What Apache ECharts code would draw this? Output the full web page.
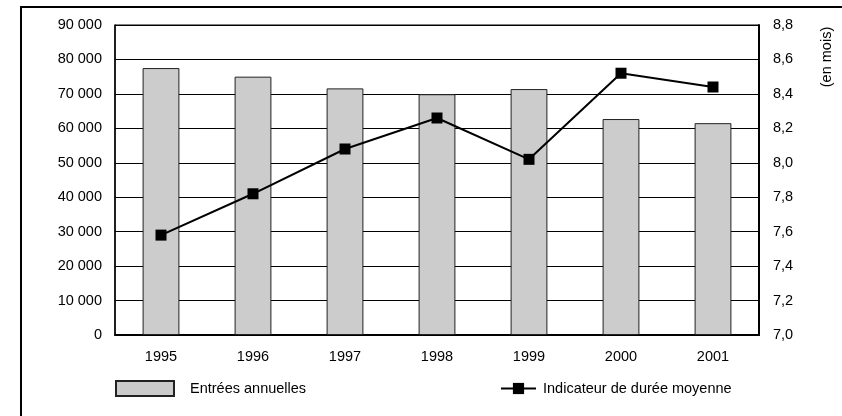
<!DOCTYPE html>
<head>
    <meta charset="utf-8"/>
    <style>
        html,body { height:100%; width:100%; margin:0; padding:0; background:#fff; }
    </style>
</head>
<body>

<div id="chart" style="width: 842px;height:416px"></div>

<script src="https://cdn.jsdelivr.net/npm/echarts@6/dist/echarts.min.js"></script>
<script type="text/javascript">

 // données
 var annees = ['1995', '1996', '1997', '1998', '1999', '2000', '2001'];
 var entrees = [77500, 75000, 71600, 69900, 71400, 62700, 61500];
 var duree = [7.58, 7.82, 8.08, 8.26, 8.02, 8.52, 8.44];

 var police = 'Liberation Sans, Arial, sans-serif';

 function milliers(v) {
     return String(v).replace(/\B(?=(\d{3})+(?!\d))/g, ' ');
 }

 var myChart = echarts.init(document.getElementById('chart'));

 var options = {
    animation: false,
    textStyle: { fontFamily: police, color: '#000' },
    grid: {
        left: 115,
        right: 83,
        top: 25,
        bottom: 81,
        show: true,
        borderColor: '#000',
        borderWidth: 1
    },
    graphic: [
        {
            type: 'rect',
            shape: { x: 21, y: 7, width: 1000, height: 1000 },
            style: { fill: 'none', stroke: '#000', lineWidth: 2 },
            silent: true
        },
        {
            type: 'text',
            x: 827,
            y: 57,
            rotation: Math.PI / 2,
            style: {
                text: '(en mois)',
                fontFamily: police,
                fontSize: 14.5,
                fill: '#000',
                align: 'center',
                verticalAlign: 'middle'
            }
        }
    ],
    legend: [
        {
            data: [{ name: 'Entrées annuelles', icon: 'rect' }],
            left: 115,
            top: 380,
            padding: 0,
            itemWidth: 58,
            itemHeight: 15,
            selectedMode: false,
            textStyle: { fontSize: 14.5, color: '#000', padding: [0, 0, 0, 11] }
        },
        {
            data: ['Indicateur de durée moyenne'],
            left: 500,
            top: 381,
            padding: 0,
            itemWidth: 35,
            itemHeight: 14,
            selectedMode: false,
            textStyle: { fontSize: 14.5, color: '#000', padding: [0, 0, 0, 2] }
        }
    ],
    xAxis: {
        type: 'category',
        data: annees,
        axisLine: { lineStyle: { color: '#000', width: 2 } },
        axisTick: { show: false },
        axisLabel: { fontSize: 14.5, color: '#000', margin: 14 }
    },
    yAxis: [
        {
            type: 'value',
            min: 0,
            max: 90000,
            interval: 10000,
            axisLine: { show: true, lineStyle: { color: '#000', width: 1.5 } },
            axisTick: { show: false },
            splitLine: { lineStyle: { color: '#000', width: 1 } },
            axisLabel: {
                fontSize: 14.5,
                color: '#000',
                margin: 13,
                formatter: milliers
            }
        },
        {
            type: 'value',
            min: 7.0,
            max: 8.8,
            interval: 0.2,
            position: 'right',
            axisLine: { show: true, lineStyle: { color: '#000', width: 2 } },
            axisTick: { show: false },
            splitLine: { show: false },
            axisLabel: {
                fontSize: 14.5,
                color: '#000',
                margin: 14,
                formatter: function (v) { return v.toFixed(1).replace('.', ','); }
            }
        }
    ],
    series: [
        {
            name: 'Entrées annuelles',
            type: 'bar',
            data: entrees,
            barWidth: '40%',
            itemStyle: { color: '#cccccc', borderColor: '#222', borderWidth: 1 }
        },
        {
            name: 'Indicateur de durée moyenne',
            type: 'line',
            yAxisIndex: 1,
            data: duree,
            symbol: 'rect',
            symbolSize: 11,
            lineStyle: { color: '#000', width: 2 },
            itemStyle: { color: '#000' }
        }
    ]
 };

 myChart.setOption(options);
</script>
</body>
